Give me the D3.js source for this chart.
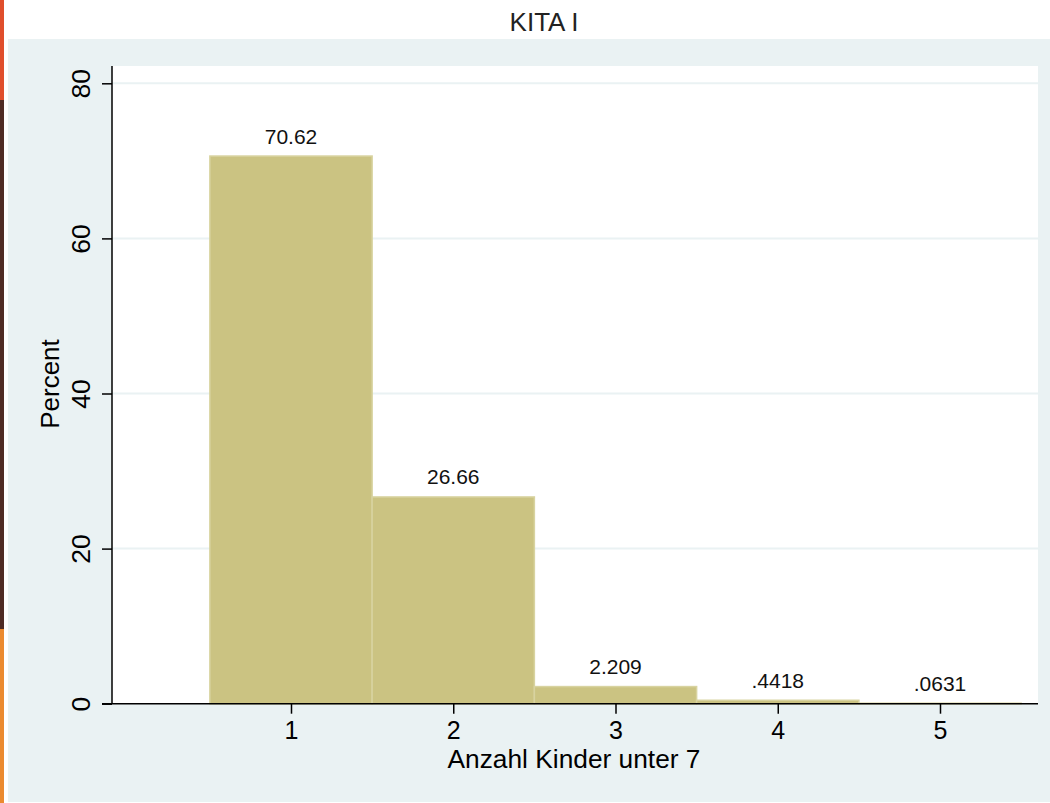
<!DOCTYPE html>
<html><head><meta charset="utf-8">
<script src="https://cdn.jsdelivr.net/npm/d3@7"></script>
<style>body{margin:0;background:#fff;} svg{display:block;font-family:"Liberation Sans",Arial,Helvetica,sans-serif;}</style>
</head><body>
<script>
const categories = [1, 2, 3, 4, 5];
const percents = [70.62, 26.66, 2.209, 0.4418, 0.0631];
const barLabels = ["70.62", "26.66", "2.209", ".4418", ".0631"];
const yTicks = [0, 20, 40, 60, 80];
const xTicks = [1, 2, 3, 4, 5];
const title = "KITA I";
const xTitle = "Anzahl Kinder unter 7";
const yTitle = "Percent";

const W = 1050, H = 803;
const plot = {left: 112, right: 1038, top: 66, bottom: 704};
const svg = d3.select("body").append("svg").attr("width", W).attr("height", H);

// left colour strip
svg.append("rect").attr("x",0).attr("y",0).attr("width",4).attr("height",100).attr("fill","#e04e2c");
svg.append("rect").attr("x",0).attr("y",100).attr("width",4).attr("height",529).attr("fill","#4f2b24");
svg.append("rect").attr("x",0).attr("y",629).attr("width",4).attr("height",H-629).attr("fill","#eb8a2f");

// outer panel
svg.append("rect").attr("x",8).attr("y",39).attr("width",W-8).attr("height",H-39-1).attr("fill","#eaf2f3");
// plot region
svg.append("rect").attr("x",plot.left).attr("y",plot.top).attr("width",plot.right-plot.left).attr("height",plot.bottom-plot.top).attr("fill","#fff");

const x = d3.scaleLinear().domain([1,5]).range([291,940]);
const y = d3.scaleLinear().domain([0,80]).range([703.7,83.3]);

// gridlines
svg.append("g").selectAll("line").data(yTicks.filter(d=>d>0)).join("line")
  .attr("x1",plot.left).attr("x2",plot.right)
  .attr("y1",d=>y(d)).attr("y2",d=>y(d))
  .attr("stroke","#eaf2f3").attr("stroke-width",2);

// bars
svg.append("g").selectAll("rect").data(categories).join("rect")
  .attr("x",(d)=>x(d-0.5)).attr("width",(d)=>x(d+0.5)-x(d-0.5))
  .attr("y",(d,i)=>y(percents[i])).attr("height",(d,i)=>y(0)-y(percents[i]))
  .attr("fill","#cbc382").attr("stroke","#d8d3a0").attr("stroke-width",1.5);

// bar labels
svg.append("g").selectAll("text").data(categories).join("text")
  .attr("x",d=>x(d)).attr("y",(d,i)=>y(percents[i])-12.5)
  .attr("text-anchor","middle").attr("font-size",21).attr("fill","#111")
  .text((d,i)=>barLabels[i]);

// y axis
const yAxis = d3.axisLeft(y).tickValues(yTicks).tickSize(10).tickPadding(12).tickFormat(d3.format("d"));
const gy = svg.append("g").attr("transform",`translate(${plot.left},0)`).call(yAxis);
gy.select(".domain").remove();
gy.append("line").attr("x1",0).attr("x2",0).attr("y1",plot.top).attr("y2",plot.bottom).attr("stroke","#000").attr("stroke-width",1.5);
gy.selectAll(".tick line").attr("stroke","#000").attr("stroke-width",1.5);
gy.selectAll(".tick text").attr("font-size",26.5).attr("fill","#000").attr("font-family","'Liberation Sans',Arial,sans-serif")
  .attr("text-anchor","middle").attr("dy",null).attr("x",null)
  .attr("transform","translate(-22,0) rotate(-90)");

// x axis
const xAxis = d3.axisBottom(x).tickValues(xTicks).tickSize(10).tickPadding(8).tickFormat(d3.format("d"));
const gx = svg.append("g").attr("transform",`translate(0,${y(0)})`).call(xAxis);
gx.select(".domain").remove();
gx.append("line").attr("x1",plot.left-10).attr("x2",plot.right).attr("y1",0).attr("y2",0).attr("stroke","#000").attr("stroke-width",1.5);
gx.selectAll(".tick line").attr("stroke","#000").attr("stroke-width",1.5);
gx.selectAll(".tick text").attr("font-size",25).attr("fill","#000").attr("font-family","'Liberation Sans',Arial,sans-serif")
  .attr("dy",null).attr("y",35);

// titles
svg.append("text").attr("x",544).attr("y",31).attr("text-anchor","middle").attr("font-size",26).attr("fill","#222").text(title);
svg.append("text").attr("x",574).attr("y",767.5).attr("text-anchor","middle").attr("font-size",26.3).attr("fill","#000").text(xTitle);
svg.append("text").attr("transform","translate(59,384) rotate(-90)").attr("text-anchor","middle").attr("font-size",26).attr("fill","#000").text(yTitle);
</script>
</body></html>
